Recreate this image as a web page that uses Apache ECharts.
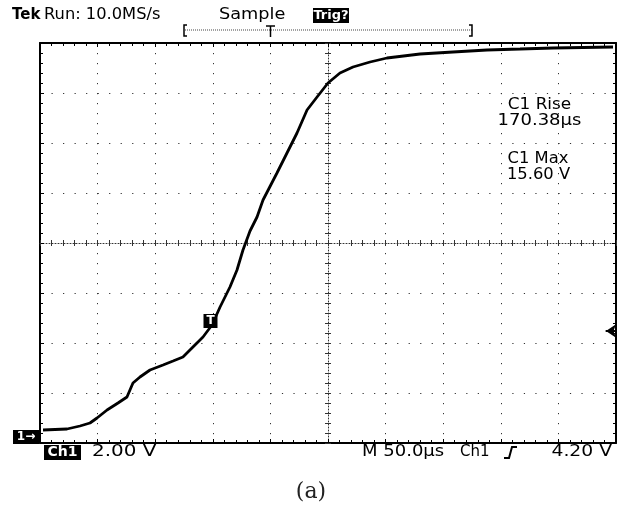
<!DOCTYPE html>
<html>
<head>
<meta charset="utf-8">
<script src="https://cdn.jsdelivr.net/npm/echarts@6/dist/echarts.min.js"></script>
<style>html,body{margin:0;padding:0;background:#fff}#c{width:622px;height:511px}</style>
</head>
<body>
<div id="c"></div>
<script>
// time (µs) since left edge of screen, 50 µs/div
const timeUs = [2.6, 23.4, 34.7, 43.4, 49.5, 58.2, 67.7, 75.5, 80.7, 86.8, 95.5, 106.8, 115.5, 124.1, 132.8, 141.5, 149.3, 156.3, 164.9, 171.0, 176.2, 182.3, 188.4, 193.6, 205.7, 214.4, 223.1, 231.8, 240.5, 250.0, 260.4, 271.7, 286.5, 301.2, 329.9, 358.5, 388.0, 416.7, 445.3, 497.4];
// Ch1 voltage (V), 2 V/div
const voltV = [0.24, 0.28, 0.40, 0.52, 0.72, 1.04, 1.32, 1.56, 2.12, 2.36, 2.64, 2.84, 3.00, 3.16, 3.56, 3.96, 4.44, 5.16, 5.96, 6.64, 7.44, 8.20, 8.76, 9.44, 10.52, 11.32, 12.12, 13.04, 13.56, 14.12, 14.52, 14.76, 14.96, 15.12, 15.28, 15.36, 15.44, 15.48, 15.52, 15.56];
const triggerLevelV = 4.20;
const triggerPoint = [148, 4.6];
const measLabels = ["C1 Rise", "170.38µs", "C1 Max", "15.60 V"];
const headerLabels = ["Tek", "Run: 10.0MS/s", "Sample", "Trig?"];
const footerLabels = ["Ch1", "2.00 V", "M 50.0µs", "Ch1", "4.20 V"];
const caption = "(a)";

const chart = echarts.init(document.getElementById('c'), null, {renderer: 'canvas'});
const FONT = '"DejaVu Sans", sans-serif';
const GL = {left: 40, top: 43, width: 576, height: 400};
const dotV = {color: '#333', width: 1, type: [1.2, 8.8], dashOffset: 0};
const dotH = {color: '#333', width: 1, type: [1.2, 10.32], dashOffset: 0};

function frameX(pos, extra) {
  return Object.assign({
    type: 'value', min: 0, max: 500, interval: 50, position: pos,
    axisLine: {show: true, onZero: false, lineStyle: {color: '#000', width: 2}},
    axisTick: {show: true, inside: true, length: 4, lineStyle: {color: '#000'}},
    minorTick: {show: true, splitNumber: 5, length: 3, lineStyle: {color: '#000'}},
    axisLabel: {show: false}, splitLine: {show: false}
  }, extra || {});
}
function frameY(pos, extra) {
  return Object.assign({
    type: 'value', min: 0, max: 8, interval: 1, position: pos,
    axisLine: {show: true, onZero: false, lineStyle: {color: '#000', width: 2}},
    axisTick: {show: true, inside: true, length: 4, lineStyle: {color: '#000'}},
    minorTick: {show: true, splitNumber: 5, length: 3, lineStyle: {color: '#000'}},
    axisLabel: {show: false}, splitLine: {show: false}
  }, extra || {});
}
const centerLine = {show: true, onZero: false, lineStyle: {color: '#333', width: 1, type: [1, 2]}};

function txt(text, x, y, size, sx, opts) {
  opts = opts || {};
  return {type: 'text', x: x, y: y, scaleX: sx,
    style: {text: text, font: (opts.bold ? 'bold ' : '') + size + 'px ' + (opts.family || FONT),
      fill: opts.fill || '#000', align: opts.align || 'left', verticalAlign: 'middle'}};
}

const option = {
  animation: false,
  backgroundColor: '#fff',
  grid: GL,
  xAxis: [
    frameX('bottom', {splitLine: {show: true, lineStyle: dotV}}),
    frameX('top'),
    frameX('bottom', {offset: -200, axisLine: centerLine, axisTick: {show: true, inside: true, length: 3, lineStyle: {color: '#333'}}, minorTick: {show: true, splitNumber: 5, length: 3, lineStyle: {color: '#333'}}}),
    frameX('bottom', {offset: -200, axisLine: {show: false}, axisTick: {show: true, inside: false, length: 3, lineStyle: {color: '#333'}}, minorTick: {show: true, splitNumber: 5, length: 3, lineStyle: {color: '#333'}}})
  ],
  yAxis: [
    {type: 'value', min: -0.28, max: 15.72, show: false, splitLine: {show: false}},
    frameY('left', {splitLine: {show: true, lineStyle: dotH}}),
    frameY('right'),
    frameY('left', {offset: -288, axisLine: centerLine, axisTick: {show: true, inside: true, length: 3, lineStyle: {color: '#333'}}, minorTick: {show: true, splitNumber: 5, length: 3, lineStyle: {color: '#333'}}}),
    frameY('left', {offset: -288, axisLine: {show: false}, axisTick: {show: true, inside: false, length: 3, lineStyle: {color: '#333'}}, minorTick: {show: true, splitNumber: 5, length: 3, lineStyle: {color: '#333'}}})
  ],
  series: [{
    type: 'line', xAxisIndex: 0, yAxisIndex: 0,
    data: timeUs.map((t, i) => [t, voltV[i]]),
    showSymbol: false, smooth: false,
    lineStyle: {color: '#000', width: 2.8},
    markPoint: {
      silent: true, animation: false,
      data: [
        {coord: triggerPoint, symbol: 'rect', symbolSize: [14, 14], itemStyle: {color: '#000'},
         label: {show: true, position: 'inside', formatter: 'T', color: '#fff', fontFamily: FONT, fontWeight: 'bold', fontSize: 12}},
        {coord: [0, 0], symbol: 'rect', symbolSize: [26, 14], symbolOffset: [-14, 1], itemStyle: {color: '#000'},
         label: {show: true, position: 'inside', formatter: '1→', color: '#fff', fontFamily: FONT, fontWeight: 'bold', fontSize: 12}},
        {coord: [500, triggerLevelV], symbol: 'arrow', symbolRotate: 90, symbolSize: [10, 10], symbolOffset: [-10, 0], itemStyle: {color: '#000'}, label: {show: false}}
      ]
    },
    markLine: {
      silent: true, symbol: 'none', animation: false,
      lineStyle: {color: '#000', width: 2, type: 'solid'},
      label: {show: false},
      data: [[{coord: [491, triggerLevelV]}, {coord: [500, triggerLevelV]}]]
    }
  }],
  graphic: [
    txt(headerLabels[0], 12, 15, 15, 1.0, {bold: true}),
    txt(headerLabels[1], 44, 15, 15, 1.085),
    txt(headerLabels[2], 219, 15, 15, 1.18),
    {type: 'rect', shape: {x: 313, y: 8, width: 36, height: 15}, style: {fill: '#000'}},
    txt(headerLabels[3], 331, 16, 13, 1.0, {bold: true, fill: '#fff', align: 'center'}),
    // record-length bar
    {type: 'line', shape: {x1: 185, y1: 30, x2: 472, y2: 30}, style: {stroke: '#444', lineWidth: 1, lineDash: [1, 1]}},
    {type: 'polyline', shape: {points: [[187, 25], [184, 25], [184, 36], [187, 36]]}, style: {stroke: '#000', lineWidth: 1.5, fill: null}},
    {type: 'polyline', shape: {points: [[469, 25], [472, 25], [472, 36], [469, 36]]}, style: {stroke: '#000', lineWidth: 1.5, fill: null}},
    {type: 'line', shape: {x1: 266, y1: 26, x2: 275, y2: 26}, style: {stroke: '#000', lineWidth: 1.5}},
    {type: 'line', shape: {x1: 270.5, y1: 26, x2: 270.5, y2: 37}, style: {stroke: '#000', lineWidth: 1.5}},
    // measurements
    txt(measLabels[0], 539.5, 105, 15, 1.125, {align: 'center'}),
    txt(measLabels[1], 539.5, 121, 15, 1.2, {align: 'center'}),
    txt(measLabels[2], 538, 159, 15, 1.09, {align: 'center'}),
    txt(measLabels[3], 538.5, 175, 15, 1.09, {align: 'center'}),
    // footer
    {type: 'rect', shape: {x: 44, y: 445, width: 37, height: 15}, style: {fill: '#000'}},
    txt(footerLabels[0], 62.5, 452.5, 14, 1.0, {bold: true, fill: '#fff', align: 'center'}),
    txt(footerLabels[1], 92, 452, 15, 1.33),
    txt(footerLabels[2], 362, 452, 15, 1.2),
    txt(footerLabels[3], 460, 452, 15, 1.0),
    {type: 'polyline', shape: {points: [[504, 458], [509, 458], [512, 447], [517, 447]]}, style: {stroke: '#000', lineWidth: 2, fill: null}},
    txt(footerLabels[4], 612, 452, 15, 1.25, {align: 'right'}),
    txt(caption, 311, 492, 22, 1.0, {family: '"DejaVu Serif", serif', fill: '#222', align: 'center'})
  ]
};
chart.setOption(option);
</script>
</body>
</html>
